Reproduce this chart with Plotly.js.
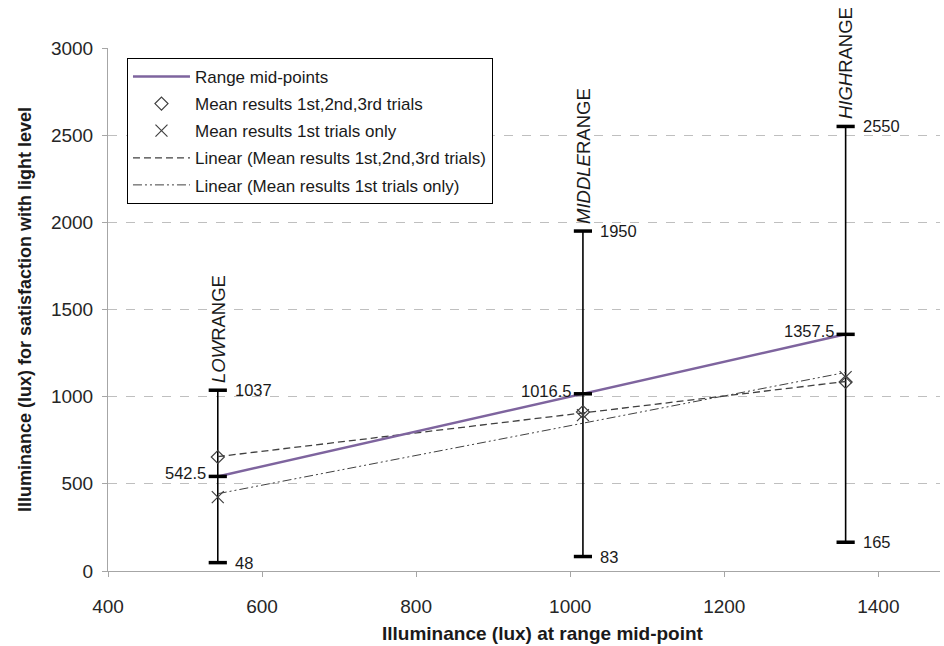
<!DOCTYPE html>
<html>
<head>
<meta charset="utf-8">
<script src="https://cdn.plot.ly/plotly-3.0.1.min.js"></script>
<style>html,body{margin:0;padding:0;background:#fff;}#chart{width:944px;height:646px;}</style>
</head>
<body>
<div id="chart"></div>
<script>
// ---- Data ----
const rangeNames = ['LOW', 'MIDDLE', 'HIGH'];
const midPoints = [542.5, 1016.5, 1357.5];
const rangeMin = [48, 83, 165];
const rangeMax = [1037, 1950, 2550];
const meanAllTrials = [654, 912, 1084];
const meanFirstTrials = [424, 894, 1112];
const xTicks = [400, 600, 800, 1000, 1200, 1400];
const yTicks = [0, 500, 1000, 1500, 2000, 2500, 3000];

const FONT = 'Liberation Sans, Arial, sans-serif';
const TXT = '#1a1a1a';

// least squares linear trend (as Excel "Linear" trendline)
function linearFit(xs, ys) {
  const n = xs.length;
  const mx = xs.reduce((a, b) => a + b, 0) / n;
  const my = ys.reduce((a, b) => a + b, 0) / n;
  let sxy = 0, sxx = 0;
  for (let i = 0; i < n; i++) { sxy += (xs[i] - mx) * (ys[i] - my); sxx += (xs[i] - mx) ** 2; }
  const slope = sxy / sxx;
  const x0 = Math.min(...xs), x1 = Math.max(...xs);
  return { x: [x0, x1], y: [my + slope * (x0 - mx), my + slope * (x1 - mx)] };
}
const trendAll = linearFit(midPoints, meanAllTrials);
const trendFirst = linearFit(midPoints, meanFirstTrials);

// vertical range bars
const barX = [], barY = [];
midPoints.forEach((m, i) => { barX.push(m, m, null); barY.push(rangeMin[i], rangeMax[i], null); });
const capX = [], capY = [];
midPoints.forEach((m, i) => { capX.push(m, m, m); capY.push(rangeMin[i], m, rangeMax[i]); });

const traces = [
  { x: barX, y: barY, mode: 'lines', line: { color: '#000', width: 1.6 }, showlegend: false, hoverinfo: 'skip' },
  { x: trendAll.x, y: trendAll.y, mode: 'lines', name: 'Linear (Mean results 1st,2nd,3rd trials)',
    line: { color: '#404040', width: 1.3, dash: '7px,4px' }, legendgroup: 'g4', legendrank: 4 },
  { x: trendFirst.x, y: trendFirst.y, mode: 'lines', name: 'Linear (Mean results 1st trials only)',
    line: { color: '#404040', width: 1, dash: '9px,3px,2px,3px,2px,3px' }, legendgroup: 'g5', legendrank: 5 },
  { x: midPoints, y: midPoints, mode: 'lines', name: 'Range mid-points',
    line: { color: '#7E649E', width: 2.5 }, legendgroup: 'g1', legendrank: 1 },
  { x: midPoints, y: meanAllTrials, mode: 'markers', name: 'Mean results 1st,2nd,3rd trials',
    marker: { symbol: 'diamond-open', size: 10, color: '#404040', line: { width: 1.2, color: '#404040' } },
    legendgroup: 'g2', legendrank: 2 },
  { x: midPoints, y: meanFirstTrials, mode: 'markers', name: 'Mean results 1st trials only',
    marker: { symbol: 'x-thin-open', size: 12, color: '#404040', line: { width: 1.2, color: '#404040' } },
    legendgroup: 'g3', legendrank: 3 },
  { x: capX, y: capY, mode: 'markers', showlegend: false, hoverinfo: 'skip',
    marker: { symbol: 'line-ew', size: 13, color: '#000', line: { width: 3.5, color: '#000' } } }
];

const annotations = [];
midPoints.forEach((m, i) => {
  annotations.push({ x: m, y: rangeMax[i], text: String(rangeMax[i]), xanchor: 'left', yanchor: 'middle',
    xshift: 15, showarrow: false, font: { size: 16.5, color: TXT, family: FONT } });
  annotations.push({ x: m, y: rangeMin[i], text: String(rangeMin[i]), xanchor: 'left', yanchor: 'middle',
    xshift: 15, showarrow: false, font: { size: 16.5, color: TXT, family: FONT } });
  annotations.push({ x: m, y: m, text: String(m), xanchor: 'right', yanchor: 'middle',
    xshift: -10, yshift: 3, showarrow: false, font: { size: 16.5, color: TXT, family: FONT } });
  annotations.push({ x: m, y: rangeMax[i], text: '<i>' + rangeNames[i] + '</i>RANGE', textangle: -90,
    xanchor: 'center', yanchor: 'bottom', yshift: 5, showarrow: false,
    font: { size: 18.5, color: TXT, family: FONT } });
});
// x-axis title (placed where the reference has it, slightly right of plot centre)
annotations.push({ xref: 'paper', yref: 'paper', x: 0.523, y: 0, yshift: -62, xanchor: 'center', yanchor: 'middle',
  text: '<b>Illuminance (lux) at range mid-point</b>', showarrow: false,
  font: { size: 19, color: TXT, family: FONT } });

const layout = {
  width: 944, height: 646,
  margin: { l: 108, r: 4, t: 48, b: 75 },
  paper_bgcolor: '#fff', plot_bgcolor: '#fff',
  font: { family: FONT, color: TXT },
  showlegend: true,
  legend: {
    x: 0.0228, y: 0.981, xanchor: 'left', yanchor: 'top',
    bgcolor: '#fff', bordercolor: '#000', borderwidth: 1,
    itemwidth: 57,
    font: { size: 17, color: TXT, family: FONT }, tracegroupgap: 2
  },
  xaxis: {
    range: [400, 1480], tickvals: xTicks, ticktext: xTicks.map(String),
    showgrid: false, zeroline: false, showline: true, linecolor: '#a6a6a6', linewidth: 1,
    ticks: 'outside', ticklen: 5, tickcolor: '#a6a6a6', ticklabelstandoff: 13,
    tickfont: { size: 19, color: '#262626', family: FONT }
  },
  yaxis: {
    range: [0, 3000], tickvals: yTicks, ticktext: yTicks.map(String),
    showgrid: true, gridcolor: '#bfbfbf', griddash: 'dash', gridwidth: 1,
    zeroline: false, showline: true, linecolor: '#a6a6a6', linewidth: 1,
    ticks: 'outside', ticklen: 5, tickcolor: '#a6a6a6', ticklabelstandoff: 5,
    tickfont: { size: 19, color: '#262626', family: FONT },
    title: { text: '<b>Illuminance (lux) for satisfaction with light level</b>', standoff: 14,
      font: { size: 18, color: TXT, family: FONT } }
  },
  annotations: annotations
};

Plotly.newPlot('chart', traces, layout, { displayModeBar: false, staticPlot: true });
</script>
</body>
</html>
